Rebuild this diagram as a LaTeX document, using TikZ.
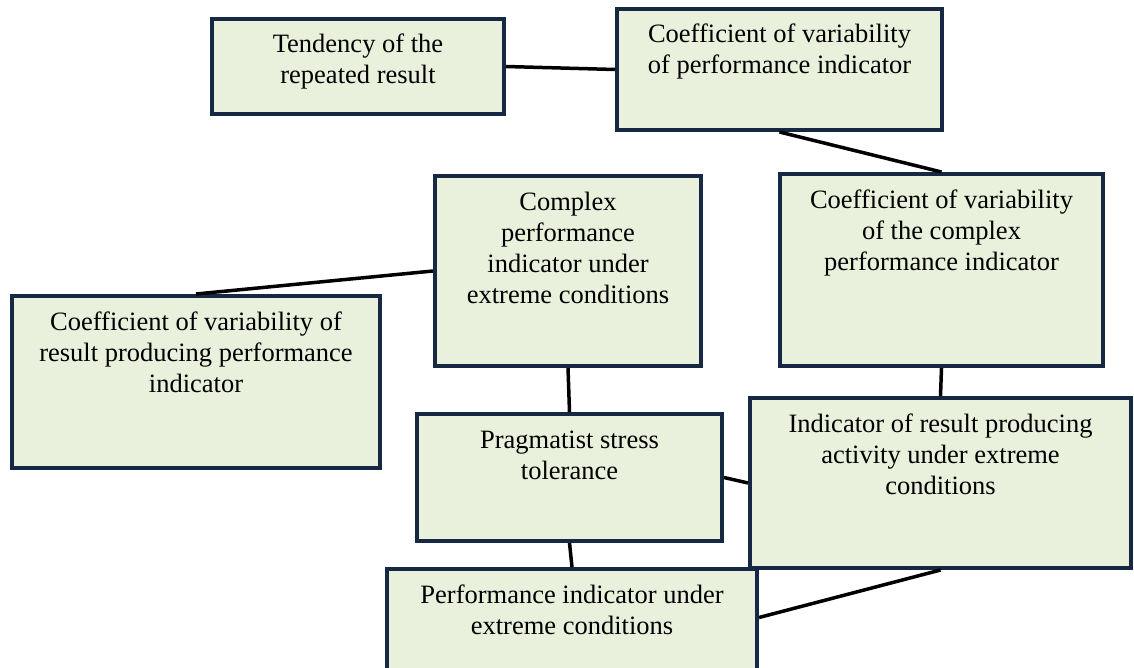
\documentclass[tikz,border=0pt]{standalone}
\usepackage{fontspec}
\setmainfont{Liberation Serif}
\usetikzlibrary{positioning}
\definecolor{boxline}{RGB}{22,40,68}
\definecolor{boxfill}{RGB}{233,240,220}
\tikzset{
	blockbox/.style={draw=boxline, fill=boxfill, line width=4pt, inner sep=0pt, anchor=north west, font=\fontsize{26.5}{31}\selectfont}
}
\tikzset{
	link/.style={line width=3.5pt, black}
}
\newcommand{\btxt}[3]{\parbox[c][#2pt][t]{#1pt}{\centering\rule{0pt}{34pt}#3}}

\begin{document}
\begin{tikzpicture}[x=1pt, y=-1pt]
      \useasboundingbox (0,0) rectangle (1134,668);
      % boxes, placed by their top left corner
      \node[blockbox] (tend) at (210,17) {\btxt{292}{95}{Tendency of the\\ repeated result}};
      \node[blockbox] (coefperf) at (615,7) {\btxt{325}{121}{Coefficient of variability\\ of performance indicator}};
      \node[blockbox] (complex) at (433,174) {\btxt{266}{190}{Complex\\ performance\\ indicator under\\ extreme conditions}};
      \node[blockbox] (coefcplx) at (778,172) {\btxt{323}{192}{Coefficient of variability\\ of the complex\\ performance indicator}};
      \node[blockbox] (coefres) at (10,294) {\btxt{368}{172}{Coefficient of variability of\\ result producing performance\\ indicator}};
      \node[blockbox] (prag) at (415,412) {\btxt{305}{127}{Pragmatist stress\\ tolerance}};
      \node[blockbox] (indic) at (748,396) {\btxt{381}{170}{Indicator of result producing\\ activity under extreme\\ conditions}};
      \node[blockbox] (perf) at (385,567) {\btxt{370}{105}{Performance indicator under\\ extreme conditions}};
      % plain links
      \draw[link] (tend.east) -- (coefperf.west);
      \draw[link] (coefperf.south) -- (coefcplx.north);
      \draw[link] (complex.west) -- (coefres.north);
      \draw[link] (complex.south) -- (prag.north);
      \draw[link] (coefcplx.south) -- (indic.north);
      \draw[link] (prag.east) -- (indic.west);
      \draw[link] (prag.south) -- (perf.north);
      \draw[link] ([yshift=4pt]perf.east) -- (indic.south);
\end{tikzpicture}
\end{document}
